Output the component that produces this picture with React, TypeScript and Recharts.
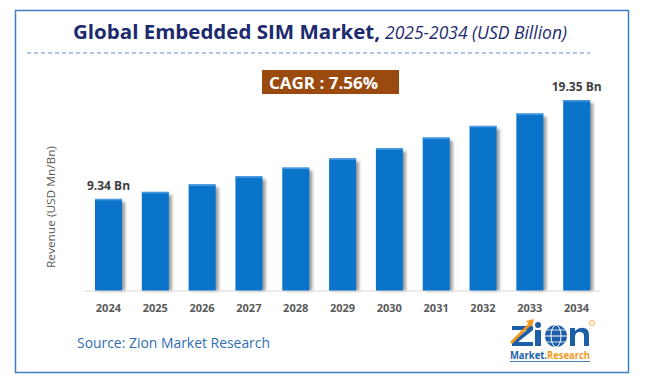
import React from "react";
import { BarChart, Bar, XAxis, YAxis, LabelList } from "recharts";

const years = ["2024", "2025", "2026", "2027", "2028", "2029", "2030", "2031", "2032", "2033", "2034"];
const revenue = [9.34, 10.05, 10.81, 11.63, 12.51, 13.45, 14.47, 15.56, 16.74, 18.0, 19.35];
const valueLabels = ["9.34 Bn", "", "", "", "", "", "", "", "", "", "19.35 Bn"];

const data = years.map((year, i) => ({ year, value: revenue[i], label: valueLabels[i] }));

const FONT = "'Open Sans', 'Noto Sans', sans-serif";

function ShadowBar(props: any) {
  const { x, y, width, height } = props;
  if (!height || height <= 0) return null;
  return (
    <g>
      <rect
        x={x + 3}
        y={y + 3}
        width={width}
        height={height - 3}
        fill="#4a4a4a"
        opacity={0.55}
        filter="url(#barShadow)"
      />
      <rect x={x} y={y} width={width} height={height} fill="#0a74cb" />
      <rect x={x} y={y} width={width} height={1.5} fill="#4a9ae0" />
    </g>
  );
}

function EndLabel(props: any) {
  const { x, y, width, value } = props;
  if (!value) return null;
  return (
    <text
      x={x + width / 2}
      y={y - 9}
      textAnchor="middle"
      fontFamily={FONT}
      fontWeight={700}
      fontSize={12}
      fill="#404040"
    >
      {value}
    </text>
  );
}

// zion logo, drawn as shapes + one line of text
function Logo() {
  return (
    <g>
      <path d="M512 326 H533 V330 L518 342 H533 V346 H512 V342 L527 330 H512 Z" fill="#1d5ea8" />
      <path d="M511 343 L531 323" stroke="#f39a1e" strokeWidth={3} />
      <path d="M526 321 L534 319 L532 327 Z" fill="#f39a1e" />
      <rect x={535} y={330} width={6} height={16} fill="#1d5ea8" />
      <circle cx={538} cy={325} r={3} fill="#1d5ea8" />
      <circle cx={556} cy={336} r={11} fill="#1d5ea8" />
      <ellipse cx={556} cy={336} rx={5} ry={11} fill="none" stroke="#ffffff" strokeWidth={1} />
      <line x1={545} y1={336} x2={567} y2={336} stroke="#ffffff" strokeWidth={1} />
      <line x1={547} y1={330} x2={565} y2={330} stroke="#ffffff" strokeWidth={0.8} />
      <line x1={547} y1={342} x2={565} y2={342} stroke="#ffffff" strokeWidth={0.8} />
      <path
        d="M570 346 V328 H575 V331 Q579 327 584 328 Q589 329 589 335 V346 H584 V336 Q584 332 580 332 Q575 332 575 337 V346 Z"
        fill="#1d5ea8"
      />
      <circle cx={592} cy={323} r={2.5} fill="none" stroke="#f39a1e" strokeWidth={0.8} />
      <text x={510} y={359} fontFamily={FONT} fontWeight={700} fontSize={10} textLength={80} lengthAdjust="spacingAndGlyphs">
        <tspan fill="#1d5ea8">Market.</tspan>
        <tspan fill="#f39a1e">Research</tspan>
      </text>
      <line x1={510} y1={361.5} x2={590} y2={361.5} stroke="#1d5ea8" strokeWidth={0.8} />
    </g>
  );
}

function Overlay() {
  return (
    <svg
      width={647}
      height={386}
      style={{ position: "absolute", left: 0, top: 0, pointerEvents: "none" }}
    >
      <defs>
        <filter id="barShadow" x="-50%" y="-10%" width="200%" height="120%">
          <feGaussianBlur stdDeviation="1.8" />
        </filter>
      </defs>
      <rect x={15.5} y={10.5} width={613} height={362} fill="none" stroke="#3d7ec2" strokeWidth={1.5} />
      <text x={73} y={39} fontFamily={FONT} fontWeight={700} fontSize={20} fill="#1c2a6e" textLength={307} lengthAdjust="spacingAndGlyphs">
        Global Embedded SIM Market,
      </text>
      <text x={385} y={39} fontFamily={FONT} fontStyle="italic" fontSize={18} fill="#1c2a6e" textLength={182} lengthAdjust="spacingAndGlyphs">
        2025-2034 (USD Billion)
      </text>
      <line x1={27} y1={53} x2={590} y2={53} stroke="#5b8fd0" strokeWidth={1} strokeDasharray="4 3" />
      <rect x={262} y={70} width={137} height={24} fill="#9a4a0e" />
      <text x={269} y={89} fontFamily={FONT} fontWeight={700} fontSize={16} fill="#ffffff" textLength={109} lengthAdjust="spacingAndGlyphs">
        CAGR : 7.56%
      </text>
      <text
        x={52}
        y={207}
        transform="rotate(-90, 52, 207)"
        textAnchor="middle"
        dominantBaseline="middle"
        fontFamily={FONT}
        fontSize={11}
        fill="#595959"
        textLength={122}
        lengthAdjust="spacingAndGlyphs"
      >
        Revenue (USD Mn/Bn)
      </text>
      <text x={77} y={348} fontFamily={FONT} fontSize={14} fill="#2f6eb5" textLength={193} lengthAdjust="spacingAndGlyphs">
        Source: Zion Market Research
      </text>
      <Logo />
    </svg>
  );
}

export default function App() {
  return (
    <div style={{ position: "absolute", left: 0, top: 0, width: 647, height: 386, background: "#ffffff" }}>
      <Overlay />
      <div style={{ position: "absolute", left: 0, top: 0 }}>
        <BarChart
          width={647}
          height={386}
          data={data}
          margin={{ top: 74, right: 47, bottom: 65, left: 85 }}
          barSize={27}
        >
          <XAxis
            dataKey="year"
            axisLine={{ stroke: "#d9d9d9" }}
            tickLine={false}
            tickMargin={7}
            interval={0}
            tick={{ fill: "#595959", fontSize: 11, fontWeight: 700, fontFamily: FONT }}
          />
          <YAxis hide domain={[0, 22]} />
          <Bar dataKey="value" shape={ShadowBar} isAnimationActive={false}>
            <LabelList dataKey="label" content={EndLabel} />
          </Bar>
        </BarChart>
      </div>
    </div>
  );
}
